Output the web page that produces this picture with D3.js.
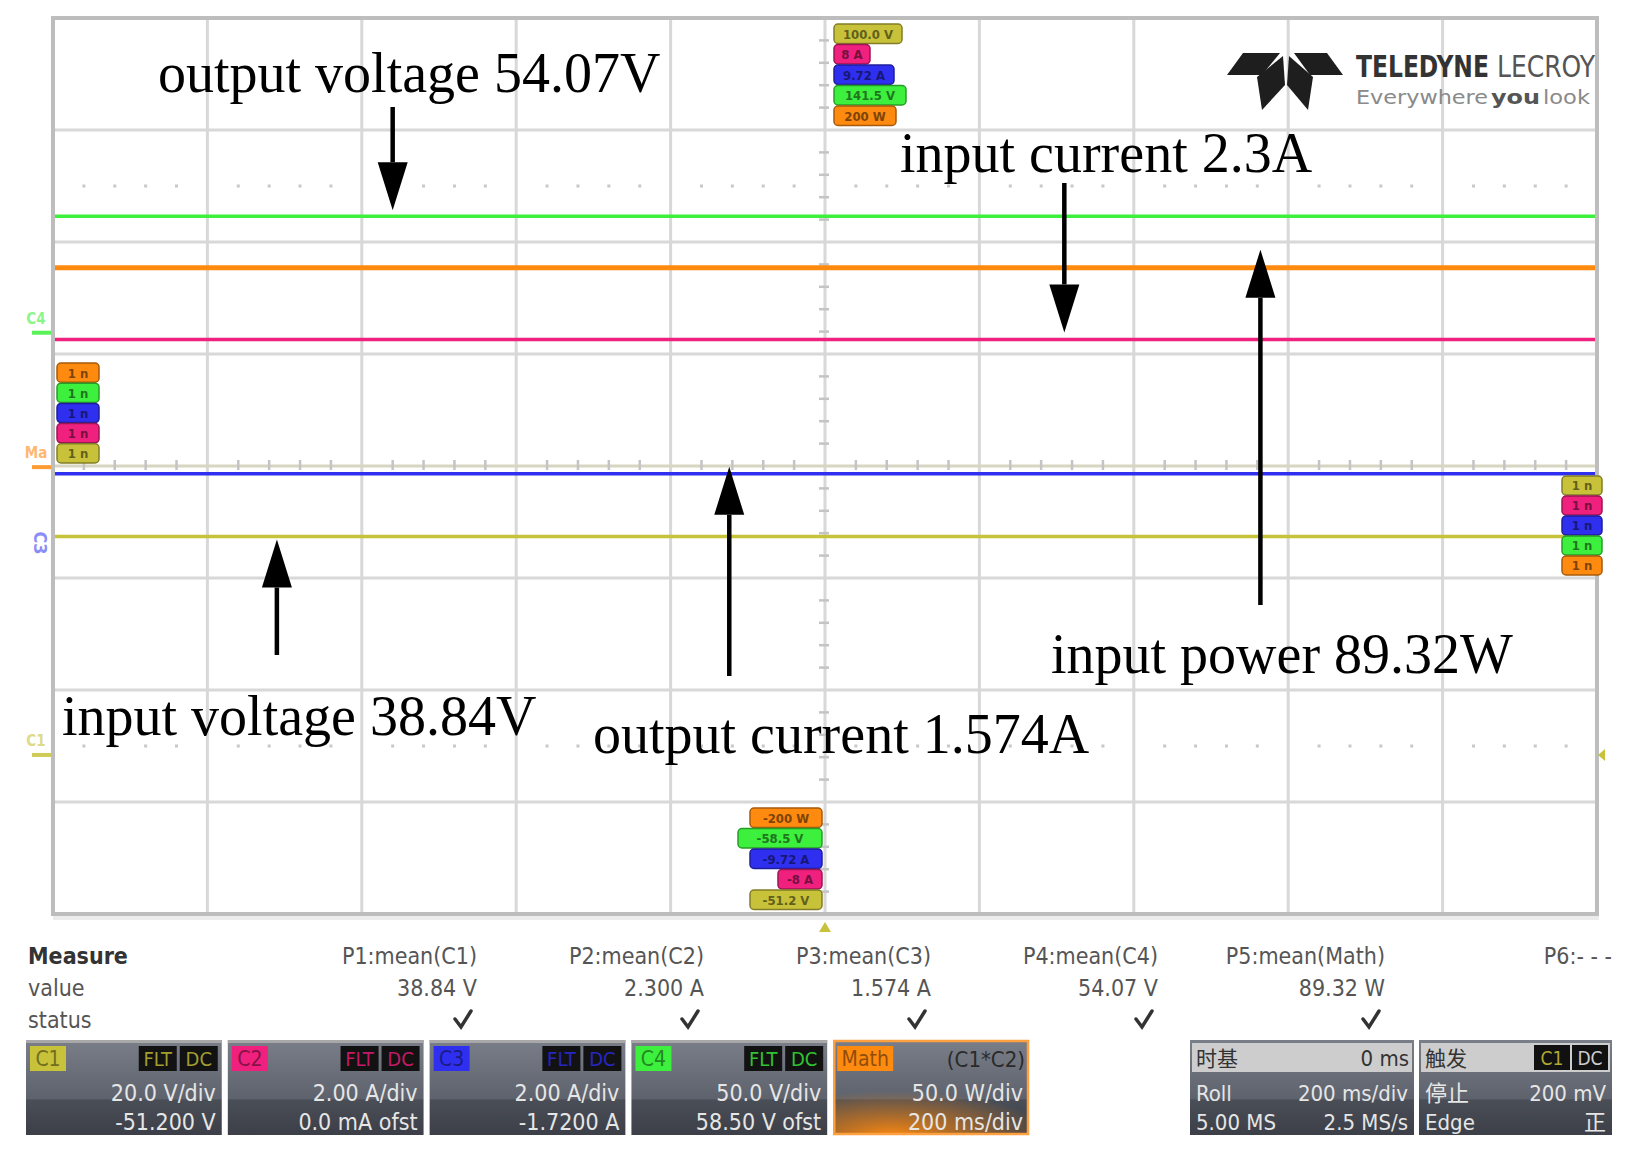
<!DOCTYPE html>
<html>
<head>
<meta charset="utf-8">
<script src="https://cdn.jsdelivr.net/npm/d3@7"></script>
<style>
  body { margin: 0; background: #fff; }
  svg { display: block; }
</style>
</head>
<body>
<div id="chart"></div>
<script>
// Channel data

const channels = ['C1', 'C2', 'C3', 'C4', 'Math'];
const channelColors = ['#c8c23a', '#f0207f', '#2f2ff0', '#3df03d', '#ff8a10'];

// trace levels, in divisions from the screen centre
const traceLevels = [-0.63, 1.13, -0.07, 2.23, 1.77];

// offset markers on the left edge, in divisions
const offsetMarks = [-2.58, null, null, 1.19, -0.01];

const measureNames = ['P1:mean(C1)', 'P2:mean(C2)', 'P3:mean(C3)', 'P4:mean(C4)', 'P5:mean(Math)', 'P6:- - -'];
const measureValues = ['38.84 V', '2.300 A', '1.574 A', '54.07 V', '89.32 W', ''];
const measureStatus = [true, true, true, true, true, false];

const scaleText = ['20.0 V/div', '2.00 A/div', '2.00 A/div', '50.0 V/div', '50.0 W/div'];
const offsetText = ['-51.200 V', '0.0 mA ofst', '-1.7200 A', '58.50 V ofst', '200 ms/div'];

const labels = [
  'output voltage 54.07V',
  'input current 2.3A',
  'input power 89.32W',
  'input voltage 38.84V',
  'output current 1.574A',
];
// which trace each label points at
const labelTrace = [3, 1, 4, 0, 2];

// little overflow tags at the screen edges
const topTags = ['100.0 V', '8 A', '9.72 A', '141.5 V', '200 W'];
const bottomTags = ['-200 W', '-58.5 V', '-9.72 A', '-8 A', '-51.2 V'];

// Layout (not data)

const W = 1631;
const H = 1151;
const grid = { left: 53, right: 1597, top: 18, bottom: 914 };
const uiFont = "'Liberation Sans Narrow', 'DejaVu Sans Condensed', 'Roboto', sans-serif";
const serif = "'Liberation Serif', 'Times New Roman', serif";
const cjk = "'Noto Sans CJK SC', sans-serif";

// text x, baseline y, arrow x (div), arrow tail y, tip offset from trace
const labelLayout = [
  { tx: 158, ty: 92, ax: 2.2, tail: 107, off: -6 },
  { tx: 900, ty: 172, ax: 6.55, tail: 183, off: -7 },
  { tx: 1051, ty: 673, ax: 7.82, tail: 605, off: -18 },
  { tx: 62, ty: 735, ax: 1.45, tail: 655, off: 3 },
  { tx: 593, ty: 753, ax: 4.38, tail: 676, off: -7 },
];

const svg = d3.select('#chart').append('svg')
  .attr('width', W)
  .attr('height', H)
  .style('font-family', uiFont);

const defs = svg.append('defs');

const x = d3.scaleLinear().domain([0, 10]).range([grid.left, grid.right]);
const y = d3.scaleLinear().domain([-4, 4]).range([grid.bottom, grid.top]);

// ---- graticule ----

const g = svg.append('g');

g.selectAll('line.vgrid')
  .data(d3.range(1, 10))
  .join('line')
  .attr('x1', d => x(d)).attr('x2', d => x(d))
  .attr('y1', grid.top).attr('y2', grid.bottom)
  .attr('stroke', '#d8d8d8')
  .attr('stroke-width', 3);

g.selectAll('line.hgrid')
  .data(d3.range(-3, 4))
  .join('line')
  .attr('x1', grid.left).attr('x2', grid.right)
  .attr('y1', d => y(d)).attr('y2', d => y(d))
  .attr('stroke', d => (d === 0 ? '#d8d5c2' : '#d8d8d8'))
  .attr('stroke-width', 3);

// dotted rows half way through the third division from the edges
const minorX = d3.range(0.2, 10, 0.2).filter(d => Math.abs(d - Math.round(d)) > 0.01);
[-2.5, 2.5].forEach(r => {
  g.selectAll(null)
    .data(minorX)
    .join('rect')
    .attr('x', d => x(d) - 1.5)
    .attr('y', y(r) - 1.5)
    .attr('width', 3)
    .attr('height', 3)
    .attr('fill', '#c8c8c8');
});

// ticks along the centre axes
const minorY = d3.range(-3.8, 4, 0.2).filter(d => Math.abs(d - Math.round(d)) > 0.01);
g.selectAll('line.cty')
  .data(minorY)
  .join('line')
  .attr('x1', x(5) - 6).attr('x2', x(5) + 4)
  .attr('y1', d => y(d)).attr('y2', d => y(d))
  .attr('stroke', '#c4c4c4')
  .attr('stroke-width', 2.5);

g.selectAll('line.ctx')
  .data(minorX)
  .join('line')
  .attr('x1', d => x(d)).attr('x2', d => x(d))
  .attr('y1', y(0) - 6).attr('y2', y(0) + 4)
  .attr('stroke', '#c4c4c4')
  .attr('stroke-width', 2.5);

g.append('rect')
  .attr('x', grid.left)
  .attr('y', grid.top)
  .attr('width', grid.right - grid.left)
  .attr('height', grid.bottom - grid.top)
  .attr('fill', 'none')
  .attr('stroke', '#bdbdbd')
  .attr('stroke-width', 4);

g.append('line')
  .attr('x1', grid.left).attr('x2', grid.right + 2)
  .attr('y1', grid.bottom + 4).attr('y2', grid.bottom + 4)
  .attr('stroke', '#ececec')
  .attr('stroke-width', 4);

// ---- logo ----

const logo = svg.append('g');
const blades = [
  [[1243, 53], [1280, 53], [1262, 75], [1227, 75]],
  [[1294, 53], [1327, 53], [1343, 75], [1310, 75]],
  [[1283, 56], [1285, 85], [1262, 110], [1257, 77]],
  [[1289, 56], [1313, 77], [1308, 110], [1287, 85]],
];
logo.selectAll('polygon')
  .data(blades)
  .join('polygon')
  .attr('points', d => d.join(' '))
  .attr('fill', '#1e1e1e');

// each word squeezed horizontally to the width it has in the logo
const logoWords = [
  { t: 'TELEDYNE', x0: 1356, w: 133, y0: 77, fs: 31, bold: true, fill: '#333' },
  { t: 'LECROY', x0: 1497, w: 98, y0: 77, fs: 31, bold: false, fill: '#555' },
  { t: 'Everywhere', x0: 1356, w: 132, y0: 104, fs: 20, bold: false, fill: '#8a8a8a' },
  { t: 'you', x0: 1491, w: 49, y0: 104, fs: 20, bold: true, fill: '#555' },
  { t: 'look', x0: 1543, w: 47, y0: 104, fs: 20, bold: false, fill: '#8a8a8a' },
];
logo.selectAll('text')
  .data(logoWords)
  .join('text')
  .attr('font-size', d => d.fs)
  .attr('font-weight', d => (d.bold ? 'bold' : 'normal'))
  .attr('fill', d => d.fill)
  .text(d => d.t)
  .attr('transform', function (d) {
    const natural = this.getComputedTextLength();
    return `translate(${d.x0},${d.y0}) scale(${d.w / natural},1)`;
  });

// ---- traces ----

const traces = svg.append('g');
const order = [0, 2, 1, 4, 3];
traces.selectAll('line')
  .data(order)
  .join('line')
  .attr('x1', grid.left + 2).attr('x2', grid.right - 2)
  .attr('y1', i => y(traceLevels[i])).attr('y2', i => y(traceLevels[i]))
  .attr('stroke', i => channelColors[i])
  .attr('stroke-width', i => (i === 4 ? 5 : 3.5));

// ---- channel markers on the left edge ----

const marks = svg.append('g');
const markNames = ['C1', '', 'C3', 'C4', 'Ma'];
channels.forEach((c, i) => {
  const lv = offsetMarks[i];
  if (lv === null) return;
  marks.append('line')
    .attr('x1', 32).attr('x2', 51)
    .attr('y1', y(lv)).attr('y2', y(lv))
    .attr('stroke', channelColors[i])
    .attr('stroke-width', 4)
    .attr('opacity', 0.85);
  marks.append('text')
    .attr('x', 36).attr('y', y(lv) - 9)
    .attr('font-size', 15)
    .attr('font-weight', 'bold')
    .attr('fill', channelColors[i])
    .attr('opacity', 0.6)
    .attr('text-anchor', 'middle')
    .text(markNames[i]);
});

marks.append('text')
  .attr('transform', 'translate(34,543) rotate(90)')
  .attr('font-size', 18)
  .attr('font-weight', 'bold')
  .attr('fill', channelColors[2])
  .attr('opacity', 0.55)
  .attr('text-anchor', 'middle')
  .text('C3');

// trigger markers
marks.append('path')
  .attr('d', `M${x(5) - 6},${grid.bottom + 18} L${x(5) + 6},${grid.bottom + 18} L${x(5)},${grid.bottom + 8}Z`)
  .attr('fill', channelColors[0]);
marks.append('path')
  .attr('d', `M${grid.right + 8},${y(offsetMarks[0]) - 6} L${grid.right + 8},${y(offsetMarks[0]) + 6} L${grid.right + 1},${y(offsetMarks[0])}Z`)
  .attr('fill', channelColors[0]);

// ---- overflow tags ----

function tagStack(parent, x0, y0, widths, names, colorIdx, h) {
  const st = parent.append('g');
  names.forEach((n, k) => {
    const col = channelColors[colorIdx[k]];
    const xx = x0[k];
    st.append('rect')
      .attr('x', xx).attr('y', y0 + k * h)
      .attr('width', widths[k]).attr('height', h - 1)
      .attr('rx', 4)
      .attr('fill', col)
      .attr('stroke', d3.color(col).darker(1.2))
      .attr('stroke-width', 1.5);
    st.append('text')
      .attr('x', xx + widths[k] / 2).attr('y', y0 + k * h + h * 0.72)
      .attr('text-anchor', 'middle')
      .attr('font-size', 13)
      .attr('font-weight', 'bold')
      .attr('fill', d3.color(col).darker(2))
      .text(n);
  });
  return st;
}

const tags = svg.append('g');
tagStack(tags, [834, 834, 834, 834, 834], 24, [68, 36, 60, 72, 62], topTags, [0, 1, 2, 3, 4], 20.5);
tagStack(tags, [750, 738, 750, 778, 750], 808, [72, 84, 72, 44, 72], bottomTags, [4, 3, 2, 1, 0], 20.5);
tagStack(tags, [57, 57, 57, 57, 57], 363, [42, 42, 42, 42, 42], ['1 n', '1 n', '1 n', '1 n', '1 n'], [4, 3, 2, 1, 0], 20.2);
tagStack(tags, [1562, 1562, 1562, 1562, 1562], 476, [40, 40, 40, 40, 40], ['1 n', '1 n', '1 n', '1 n', '1 n'], [0, 1, 2, 3, 4], 20);

// ---- annotations ----

const ann = svg.append('g');
labels.forEach((txt, i) => {
  const L = labelLayout[i];
  ann.append('text')
    .attr('x', L.tx).attr('y', L.ty)
    .attr('font-family', serif)
    .attr('font-size', 56)
    .attr('fill', '#000')
    .text(txt);

  const ax = x(L.ax);
  const tip = y(traceLevels[labelTrace[i]]) + L.off;
  const dir = tip > L.tail ? 1 : -1;
  const headBase = tip - dir * 48;
  ann.append('line')
    .attr('x1', ax).attr('x2', ax)
    .attr('y1', L.tail).attr('y2', headBase)
    .attr('stroke', '#000')
    .attr('stroke-width', 4.5);
  ann.append('path')
    .attr('d', `M${ax - 15},${headBase} L${ax + 15},${headBase} L${ax},${tip}Z`)
    .attr('fill', '#000');
});

// ---- measurement table ----

const meas = svg.append('g').attr('font-size', 23);
const colX = d3.scaleLinear().domain([0, 5]).range([477, 1612]);

meas.append('text').attr('x', 28).attr('y', 964).attr('font-weight', 'bold').attr('fill', '#333').text('Measure');
meas.append('text').attr('x', 28).attr('y', 996).attr('fill', '#555').text('value');
meas.append('text').attr('x', 28).attr('y', 1028).attr('fill', '#555').text('status');

meas.selectAll('text.head')
  .data(measureNames)
  .join('text')
  .attr('x', (d, i) => colX(i)).attr('y', 964)
  .attr('text-anchor', 'end')
  .attr('fill', '#555')
  .text(d => d);

meas.selectAll('text.val')
  .data(measureValues)
  .join('text')
  .attr('x', (d, i) => colX(i)).attr('y', 996)
  .attr('text-anchor', 'end')
  .attr('fill', '#555')
  .text(d => d);

meas.selectAll('path.chk')
  .data(measureStatus.map((s, i) => (s ? i : -1)).filter(i => i >= 0))
  .join('path')
  .attr('d', i => `M${colX(i) - 22},${1019} L${colX(i) - 16},${1027} L${colX(i) - 6},${1011}`)
  .attr('fill', 'none')
  .attr('stroke', '#333')
  .attr('stroke-width', 3.5)
  .attr('stroke-linecap', 'round');

// ---- channel descriptor boxes ----

const boxTop = 1040;
const boxH = 95;

const grad = defs.append('linearGradient').attr('id', 'boxg').attr('x1', 0).attr('y1', 0).attr('x2', 0).attr('y2', 1);
grad.append('stop').attr('offset', '0%').attr('stop-color', '#7a7e88');
grad.append('stop').attr('offset', '62%').attr('stop-color', '#5e626c');
grad.append('stop').attr('offset', '63%').attr('stop-color', '#4a4e57');
grad.append('stop').attr('offset', '100%').attr('stop-color', '#3c3f47');

const glow = defs.append('radialGradient').attr('id', 'mathglow')
  .attr('cx', 0.3).attr('cy', 1).attr('r', 0.8);
glow.append('stop').attr('offset', '0%').attr('stop-color', '#ff8a10').attr('stop-opacity', 0.95);
glow.append('stop').attr('offset', '100%').attr('stop-color', '#ff8a10').attr('stop-opacity', 0);

const band = d3.scaleBand().domain(channels).range([26, 1029]).paddingInner(0.03);

const boxes = svg.append('g');
channels.forEach((c, i) => {
  const bx = band(c);
  const bw = band.bandwidth();
  const col = channelColors[i];
  const bg = boxes.append('g');
  bg.append('rect')
    .attr('x', bx).attr('y', boxTop)
    .attr('width', bw).attr('height', boxH)
    .attr('fill', 'url(#boxg)');
  if (c === 'Math') {
    bg.append('rect')
      .attr('x', bx).attr('y', boxTop + 40)
      .attr('width', bw).attr('height', boxH - 40)
      .attr('fill', 'url(#mathglow)');
    bg.append('rect')
      .attr('x', bx + 1).attr('y', boxTop + 1)
      .attr('width', bw - 2).attr('height', boxH - 2)
      .attr('fill', 'none')
      .attr('stroke', '#ffa040')
      .attr('stroke-width', 2.5);
  } else {
    bg.append('line')
      .attr('x1', bx).attr('x2', bx + bw)
      .attr('y1', boxTop + 1.5).attr('y2', boxTop + 1.5)
      .attr('stroke', '#a8a8a8')
      .attr('stroke-width', 3);
  }
  const lw = c === 'Math' ? 56 : 36;
  bg.append('rect')
    .attr('x', bx + 4).attr('y', boxTop + 6)
    .attr('width', lw).attr('height', 25)
    .attr('fill', col);
  bg.append('text')
    .attr('x', bx + 4 + lw / 2).attr('y', boxTop + 26)
    .attr('text-anchor', 'middle')
    .attr('font-size', 21)
    .attr('fill', d3.color(col).darker(1.6))
    .text(c);

  if (c === 'Math') {
    bg.append('text')
      .attr('x', bx + bw - 4).attr('y', boxTop + 27)
      .attr('text-anchor', 'end')
      .attr('font-size', 22)
      .attr('fill', '#2a2a2a')
      .text('(C1*C2)');
  } else {
    ['DC', 'FLT'].forEach((t, k) => {
      const rx = bx + bw - 42 - k * 41;
      bg.append('rect')
        .attr('x', rx).attr('y', boxTop + 6)
        .attr('width', 38).attr('height', 25)
        .attr('fill', '#121212');
      bg.append('text')
        .attr('x', rx + 19).attr('y', boxTop + 26)
        .attr('text-anchor', 'middle')
        .attr('font-size', 20)
        .attr('fill', d3.color(col).darker(0.6))
        .text(t);
    });
  }

  bg.append('text')
    .attr('x', bx + bw - 6).attr('y', boxTop + 61)
    .attr('text-anchor', 'end')
    .attr('font-size', 23)
    .attr('fill', '#e6e6e6')
    .text(scaleText[i]);
  bg.append('text')
    .attr('x', bx + bw - 6).attr('y', boxTop + 90)
    .attr('text-anchor', 'end')
    .attr('font-size', 23)
    .attr('fill', '#e6e6e6')
    .text(offsetText[i]);
});

// timebase and trigger boxes
const sideBoxes = [
  { x0: 1190, w: 224, head: ['时基', '0 ms'], rows: [['Roll', '200 ms/div'], ['5.00 MS', '2.5 MS/s']] },
  { x0: 1419, w: 193, head: ['触发', ''], rows: [['停止', '200 mV'], ['Edge', '正']] },
];
sideBoxes.forEach((b, k) => {
  const bg = boxes.append('g');
  bg.append('rect')
    .attr('x', b.x0).attr('y', boxTop)
    .attr('width', b.w).attr('height', boxH)
    .attr('fill', 'url(#boxg)');
  bg.append('rect')
    .attr('x', b.x0 + 2).attr('y', boxTop + 3)
    .attr('width', b.w - 4).attr('height', 29)
    .attr('fill', '#cdcdcd');
  bg.append('text')
    .attr('x', b.x0 + 6).attr('y', boxTop + 26)
    .attr('font-family', cjk)
    .attr('font-size', 21)
    .attr('fill', '#333')
    .text(b.head[0]);
  if (b.head[1]) {
    bg.append('text')
      .attr('x', b.x0 + b.w - 5).attr('y', boxTop + 26)
      .attr('text-anchor', 'end')
      .attr('font-size', 22)
      .attr('fill', '#333')
      .text(b.head[1]);
  } else {
    ['DC', 'C1'].forEach((t, j) => {
      const rx = b.x0 + b.w - 40 - j * 38;
      bg.append('rect')
        .attr('x', rx).attr('y', boxTop + 5)
        .attr('width', 36).attr('height', 25)
        .attr('fill', '#111');
      bg.append('text')
        .attr('x', rx + 18).attr('y', boxTop + 25)
        .attr('text-anchor', 'middle')
        .attr('font-size', 19)
        .attr('fill', j === 1 ? '#b0a830' : '#ccc')
        .text(t);
    });
  }
  b.rows.forEach((r, j) => {
    const yy = boxTop + 61 + j * 29;
    bg.append('text')
      .attr('x', b.x0 + 6).attr('y', yy)
      .attr('font-family', k === 1 && j === 0 ? cjk : uiFont)
      .attr('font-size', 22)
      .attr('fill', '#e6e6e6')
      .text(r[0]);
    bg.append('text')
      .attr('x', b.x0 + b.w - 6).attr('y', yy)
      .attr('text-anchor', 'end')
      .attr('font-family', r[1] === '正' ? cjk : uiFont)
      .attr('font-size', 22)
      .attr('fill', '#e6e6e6')
      .text(r[1]);
  });
});
</script>
</body>
</html>
